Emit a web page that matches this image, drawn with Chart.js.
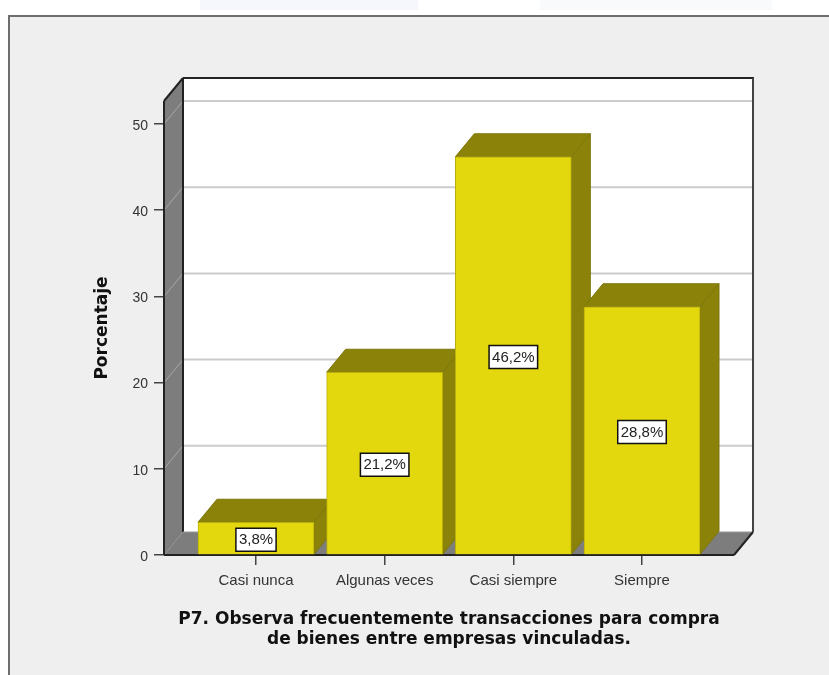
<!DOCTYPE html>
<html>
<head>
<meta charset="utf-8">
<style>
  html, body { margin: 0; padding: 0; background: #ffffff; overflow: hidden; }
  canvas { display: block; }
</style>
<script src="https://cdn.jsdelivr.net/npm/chart.js@4"></script>
</head>
<body>
<canvas id="chart" width="829" height="675"></canvas>
<script>
const categories = ['Casi nunca', 'Algunas veces', 'Casi siempre', 'Siempre'];
const percentages = [3.8, 21.2, 46.2, 28.8];
const yTicks = [0, 10, 20, 30, 40, 50];
const yTitle = 'Porcentaje';
const xTitle = ['P7. Observa frecuentemente transacciones para compra', 'de bienes entre empresas vinculadas.'];

const DEPTH_X = 19;   // 3D offset of the back wall
const DEPTH_Y = -23;

function poly(ctx, pts, fill, stroke, width) {
    ctx.beginPath();
    pts.forEach((p, i) => i ? ctx.lineTo(p[0], p[1]) : ctx.moveTo(p[0], p[1]));
    ctx.closePath();
    if (fill) { ctx.fillStyle = fill; ctx.fill(); }
    if (stroke) { ctx.strokeStyle = stroke; ctx.lineWidth = width || 1; ctx.stroke(); }
}

function line(ctx, x1, y1, x2, y2, color, width) {
    ctx.beginPath();
    ctx.moveTo(x1, y1);
    ctx.lineTo(x2, y2);
    ctx.strokeStyle = color;
    ctx.lineWidth = width;
    ctx.stroke();
}

// grey panel with its frame, behind everything
const panelPlugin = {
    id: 'panel',
    beforeDraw(chart) {
        const ctx = chart.ctx;
        ctx.save();
        // faint smudges left above the frame in the screenshot
        ctx.fillStyle = '#f5f7fd';
        ctx.fillRect(200, 0, 218, 10);
        ctx.fillStyle = '#f8fafc';
        ctx.fillRect(540, 0, 232, 10);
        ctx.fillStyle = '#efefef';
        ctx.fillRect(9, 16, 830, 670);
        ctx.strokeStyle = '#6e6e6e';
        ctx.lineWidth = 2;
        ctx.strokeRect(9, 16, 830, 670);
        ctx.restore();
    }
};

// walls, floor, gridlines and the top and side faces of the bars
const boxPlugin = {
    id: 'box3d',
    beforeDatasetsDraw(chart) {
        const ctx = chart.ctx;
        const { left, right, top, bottom } = chart.chartArea;
        const y = chart.scales.y;
        ctx.save();
        poly(ctx, [[left + DEPTH_X, top + DEPTH_Y], [right + DEPTH_X, top + DEPTH_Y],
            [right + DEPTH_X, bottom + DEPTH_Y], [left + DEPTH_X, bottom + DEPTH_Y]], '#ffffff');
        poly(ctx, [[left, top], [left + DEPTH_X, top + DEPTH_Y],
            [left + DEPTH_X, bottom + DEPTH_Y], [left, bottom]], '#7d7d7d');
        poly(ctx, [[left, bottom], [left + DEPTH_X, bottom + DEPTH_Y],
            [right + DEPTH_X, bottom + DEPTH_Y], [right, bottom]], '#7d7d7d');

        yTicks.slice(1).forEach(v => {
            const py = y.getPixelForValue(v);
            line(ctx, left, py, left + DEPTH_X, py + DEPTH_Y, '#a8a8a8', 1);
            line(ctx, left + DEPTH_X, py + DEPTH_Y, right + DEPTH_X, py + DEPTH_Y, '#cccccc', 2);
        });

        line(ctx, left + DEPTH_X, top + DEPTH_Y, right + DEPTH_X + 1, top + DEPTH_Y, '#222222', 2);
        line(ctx, right + DEPTH_X, top + DEPTH_Y, right + DEPTH_X, bottom + DEPTH_Y, '#444444', 2);
        line(ctx, left + DEPTH_X, top + DEPTH_Y, left + DEPTH_X, bottom + DEPTH_Y, '#222222', 2);
        line(ctx, left + DEPTH_X, bottom + DEPTH_Y, right + DEPTH_X, bottom + DEPTH_Y, '#999999', 1);
        line(ctx, left, top, left, bottom, '#222222', 2);
        line(ctx, left, top, left + DEPTH_X, top + DEPTH_Y, '#222222', 2);
        line(ctx, right, bottom, right + DEPTH_X, bottom + DEPTH_Y, '#222222', 2);
        line(ctx, left, bottom, right, bottom, '#222222', 2);

        chart.getDatasetMeta(0).data.forEach(bar => {
            const l = bar.x - bar.width / 2;
            const r = bar.x + bar.width / 2;
            poly(ctx, [[r, bar.y], [r + DEPTH_X, bar.y + DEPTH_Y],
                [r + DEPTH_X, bar.base + DEPTH_Y], [r, bar.base]], '#8b8309', '#7d760a', 1);
            poly(ctx, [[l, bar.y], [l + DEPTH_X, bar.y + DEPTH_Y],
                [r + DEPTH_X, bar.y + DEPTH_Y], [r, bar.y]], '#8b8309', '#7d760a', 1);
        });
        ctx.restore();
    }
};

// boxed value labels in the middle of each bar
const valueLabelPlugin = {
    id: 'valueLabels',
    afterDatasetsDraw(chart) {
        const ctx = chart.ctx;
        ctx.save();
        ctx.font = '15px "Liberation Sans"';
        ctx.textAlign = 'center';
        ctx.textBaseline = 'middle';
        chart.getDatasetMeta(0).data.forEach((bar, i) => {
            const text = percentages[i].toFixed(1).replace('.', ',') + '%';
            const w = ctx.measureText(text).width + 6;
            const cy = (bar.y + bar.base) / 2 + 1;
            ctx.fillStyle = '#ffffff';
            ctx.fillRect(bar.x - w / 2, cy - 11, w, 23);
            ctx.strokeStyle = '#111111';
            ctx.lineWidth = 1.5;
            ctx.strokeRect(bar.x - w / 2, cy - 11, w, 23);
            ctx.fillStyle = '#222222';
            ctx.fillText(text, bar.x, cy + 1);
        });
        ctx.restore();
    }
};

new Chart(document.getElementById('chart').getContext('2d'), {
    type: 'bar',
    data: {
        datasets: [{
            data: percentages.map((v, i) => ({ x: i, y: v })),
            backgroundColor: '#e3d80d',
            borderColor: '#b9af0c',
            borderWidth: 1,
            barThickness: 116
        }]
    },
    options: {
        responsive: false,
        animation: false,
        layout: { padding: { top: 101, right: 95, left: 0, bottom: 0 } },
        plugins: { legend: { display: false }, tooltip: { enabled: false } },
        scales: {
            x: {
                type: 'linear',
                offset: false,
                min: -0.715,
                max: 3.715,
                afterFit: s => { s.height = 120; },
                afterBuildTicks: s => { s.ticks = categories.map((c, i) => ({ value: i })); },
                border: { display: false },
                grid: { offset: false, drawOnChartArea: false, drawTicks: true, tickLength: 10, color: '#444444', lineWidth: 1.5 },
                ticks: {
                    callback: v => categories[v],
                    autoSkip: false,
                    maxRotation: 0,
                    padding: 7,
                    color: '#333333',
                    font: { family: '"Liberation Sans"', size: 15 }
                },
                title: {
                    display: true,
                    text: xTitle,
                    color: '#111111',
                    padding: { top: 0, bottom: 25 },
                    font: { family: '"DejaVu Sans"', size: 17, weight: 'bold', lineHeight: 1.18 }
                }
            },
            y: {
                min: 0,
                max: 52.67,
                afterFit: s => { s.width = 164; },
                afterBuildTicks: s => { s.ticks = yTicks.map(v => ({ value: v })); },
                border: { display: false },
                grid: { drawOnChartArea: false, drawTicks: true, tickLength: 10, color: '#444444', lineWidth: 1.5 },
                ticks: {
                    padding: 6,
                    labelOffset: 2,
                    color: '#333333',
                    font: { family: '"Liberation Sans"', size: 14 }
                },
                title: {
                    display: true,
                    text: yTitle,
                    color: '#111111',
                    padding: { top: 92, bottom: 0 },
                    font: { family: '"DejaVu Sans"', size: 17, weight: 'bold' }
                }
            }
        }
    },
    plugins: [panelPlugin, boxPlugin, valueLabelPlugin]
});
</script>
</body>
</html>
